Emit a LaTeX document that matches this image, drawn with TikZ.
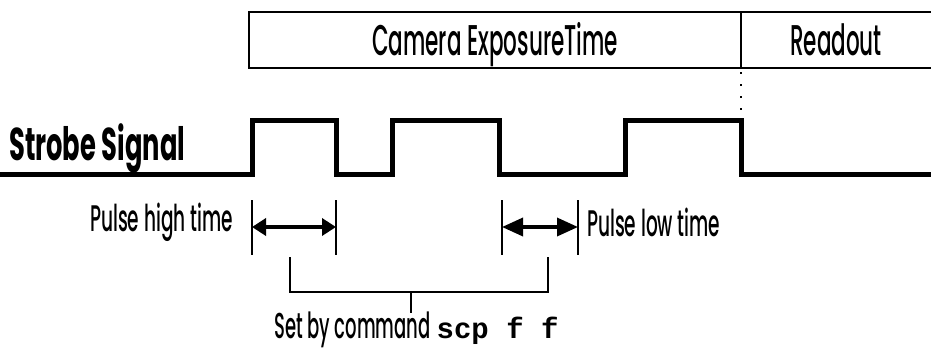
\documentclass[tikz,border=0pt]{standalone}
\usepackage{fontspec}
\setmainfont{Poppins}[UprightFont=* Medium,FakeStretch=0.5]
\newfontfamily\strobefont{Poppins}[FakeStretch=0.56]
\newfontfamily\codefont{Liberation Mono}
\usetikzlibrary{arrows.meta}

\begin{document}
\begin{tikzpicture}[x=1pt,y=-1pt,>=Stealth,
  every node/.style={inner sep=0pt},
  signal/.style={line width=5pt},
  frame/.style={line width=2pt},
  tick/.style={line width=2.5pt},
  span/.style={line width=3.5pt},
  lbl/.style={font=\fontsize{37}{37}\selectfont}]
  \useasboundingbox (0,0) rectangle (931,349);

  % exposure / readout bar
  \draw[frame] (931,12) -- (249,12) -- (249,68) -- (931,68);
  \draw[frame] (741,12) -- (741,68);
  \node[font=\fontsize{43}{43}\selectfont,anchor=base] (expo) at (495,55) {Camera ExposureTime};
  \node[font=\fontsize{43}{43}\selectfont,anchor=base] (readout) at (836,55) {Readout};
  \draw[line width=2pt,dash pattern=on 2pt off 10pt] (741,72) -- (741,118);

  % strobe waveform
  \draw[signal] (0,174) -| (252,120) -| (336,174) -| (392,120) -| (499,174)
    -| (625,120) -| (741,174) -- (931,174);
  \node[font=\strobefont\bfseries\fontsize{46}{46}\selectfont,anchor=base west] (strobe) at (9,160) {Strobe Signal};

  % pulse widths
  \foreach \n/\x in {h1/252,h2/336,l1/502,l2/578}{
    \coordinate (\n) at (\x,227);
    \draw[tick] (\n) ++(0,-27) -- ++(0,55);
  }
  \draw[span,{Triangle[length=14pt,width=17pt]}-{Triangle[length=14pt,width=17pt]}] (h1) -- (h2);
  \draw[span,{Triangle[length=21pt,width=18pt]}-{Triangle[length=21pt,width=18pt]}] (l1) -- (l2);
  \node[lbl,anchor=base east] (hightxt) at (233,231) {Pulse high time};
  \node[lbl,anchor=base west] (lowtxt) at (587,236) {Pulse low time};

  % bracket to the command
  \coordinate (bl) at (290,257);
  \coordinate (br) at (548,257);
  \draw[frame] (bl) |- (411,292) coordinate (bm) -| (br);
  \draw[frame] (bm) -- (411,313);
  \node[font=\fontsize{36}{36}\selectfont,anchor=base west] (cmd) at (274,338)
    {Set by command\hspace{6pt}{\codefont\bfseries\fontsize{29}{29}\selectfont scp f f}};
\end{tikzpicture}
\end{document}
